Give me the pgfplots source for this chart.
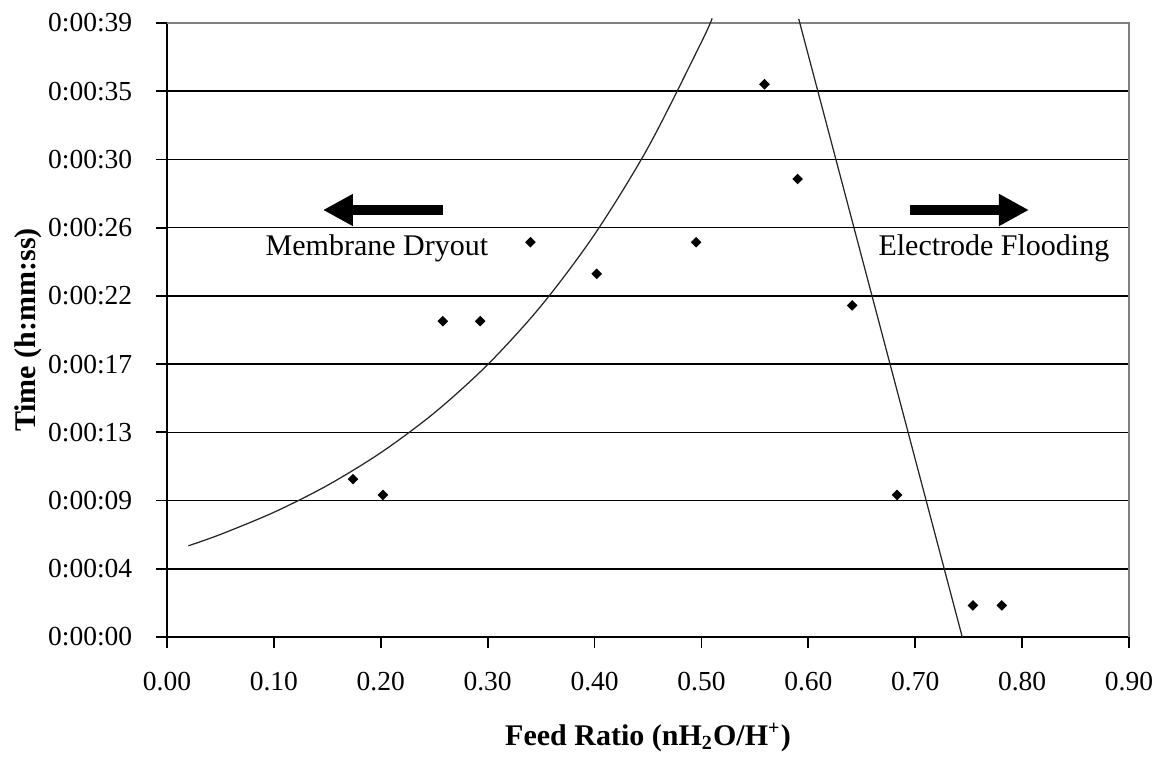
\documentclass[border=0pt]{standalone}
\usepackage{pgfplots}
\pgfplotsset{compat=1.18}
\usepackage{fontspec}
\setmainfont{Liberation Serif}
\usetikzlibrary{arrows.meta,calc}

\begin{document}
\begin{tikzpicture}
\begin{axis}[
    scale only axis,
    width=384.8pt,
    height=245.6pt,
    xmin=0, xmax=0.9,
    ymin=0, ymax=38.88,
    xtick={0,0.1,0.2,0.3,0.4,0.5,0.6,0.7,0.8,0.9},
    xticklabels={0.00,0.10,0.20,0.30,0.40,0.50,0.60,0.70,0.80,0.90},
    ytick={0,4.32,8.64,12.96,17.28,21.6,25.92,30.24,34.56,38.88},
    yticklabels={0:00:00,0:00:04,0:00:09,0:00:13,0:00:17,0:00:22,0:00:26,0:00:30,0:00:35,0:00:39},
    axis x line*=bottom,
    axis y line*=left,
    axis line style={black, line width=0.7pt, -},
    tick align=outside,
    major tick length=4.4pt,
    tick style={black, line width=0.7pt},
    ymajorgrids=true,
    grid style={black, line width=0.6pt},
    tick label style={font=\fontsize{11}{13}\selectfont},
    xticklabel style={yshift=-6pt},
    yticklabel style={xshift=-6pt},
    /pgf/number format/assume math mode=true,
    xlabel={\textbf{Feed Ratio (nH\textsubscript{2}O/H\textsuperscript{+})}},
    ylabel={\textbf{Time (h:mm:ss)}},
    label style={font=\fontsize{12}{14}\selectfont},
    xlabel style={at={(axis description cs:0.5,-0.163)}, anchor=center},
    ylabel style={at={(axis description cs:-0.1445,0.5)}, anchor=center},
    clip=false,
]
% plot area border (top and right)
\draw[gray, line width=0.6pt] (rel axis cs:0,1) -- (rel axis cs:1,1) -- (rel axis cs:1,0);

% exponential trendline (left)
\addplot[black!85, line width=0.5pt, no markers, smooth] coordinates {
    (0.02,5.778) (0.05,6.497) (0.10,7.898) (0.15,9.601) (0.20,11.672)
    (0.25,14.189) (0.30,17.249) (0.35,20.970) (0.40,25.493) (0.45,30.991)
    (0.50,37.675) (0.51,39.177)
};
% linear trendline (right)
\addplot[black!85, line width=0.5pt, no markers] coordinates {
    (0.591,39.14) (0.744,0)
};

% measured points
\addplot[only marks, mark=square*, mark size=1.3pt, mark options={rotate=45}, black] coordinates {
    (0.174,10) (0.202,9) (0.258,20) (0.293,20) (0.340,25) (0.402,23)
    (0.495,25) (0.559,35) (0.590,29) (0.641,21) (0.683,9) (0.754,2) (0.781,2)
};

% annotations
\draw[line width=4pt, -{Triangle[length=12pt,width=12pt]}]
    (axis cs:0.2582,27.04) -- (axis cs:0.1459,27.04);
\draw[line width=4pt, -{Triangle[length=12pt,width=12pt]}]
    (axis cs:0.695,27.04) -- (axis cs:0.8064,27.04);
\node[font=\fontsize{12}{14}\selectfont] at (axis cs:0.1964,24.63) {Membrane Dryout};
\node[font=\fontsize{12}{14}\selectfont] at (axis cs:0.7736,24.63) {Electrode Flooding};

\coordinate (bl) at (rel axis cs:0,0);
\coordinate (tr) at (rel axis cs:1,1);
\end{axis}
\pgfresetboundingbox
\path ($(bl)+(-66.8pt,-48.4pt)$) rectangle ($(tr)+(12pt,9.2pt)$);
\end{tikzpicture}
\end{document}
